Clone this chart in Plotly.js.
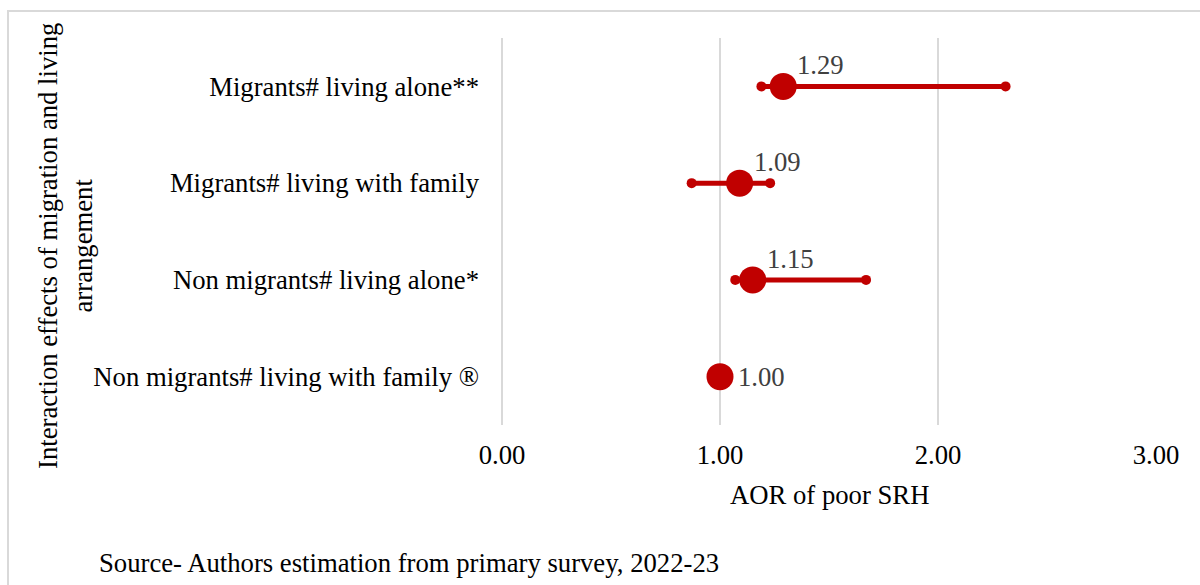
<!DOCTYPE html>
<html>
<head>
<meta charset="utf-8">
<script src="https://cdn.plot.ly/plotly-3.0.1.min.js"></script>
<style>html,body{margin:0;padding:0;background:#fff;}#chart{width:1200px;height:585px;}</style>
</head>
<body>
<div id="chart"></div>
<script>
// Data (top to bottom as in the reference)
const categories = [
  "Migrants# living alone**",
  "Migrants# living with family",
  "Non migrants# living alone*",
  "Non migrants# living with family \u00AE"
];
const aor   = [1.29, 1.09, 1.15, 1.00];
const lower = [1.19, 0.87, 1.07, null];
const upper = [2.31, 1.23, 1.67, null];
const xTickVals = [0, 1, 2, 3];
const xTickText = ["0.00", "1.00", "2.00", "3.00"];

const RED = "#C00000";
const FONT = "'Liberation Serif', 'Times New Roman', Times, serif";
const FS = 26.7;

// CI segments
const ciX = [], ciY = [];
categories.forEach((c, i) => {
  if (lower[i] !== null && upper[i] !== null) {
    ciX.push(lower[i], upper[i], null);
    ciY.push(c, c, null);
  }
});

const ciTrace = {
  type: "scatter", mode: "lines+markers",
  x: ciX, y: ciY,
  line: {color: RED, width: 5},
  marker: {color: RED, size: 10},
  hoverinfo: "skip", showlegend: false, connectgaps: false
};

const pointTrace = {
  type: "scatter", mode: "markers",
  x: aor, y: categories,
  marker: {color: RED, size: 27},
  showlegend: false
};

const L = 502, R = 44, T = 38, B = 160;
const PW = 1200 - L - R, PH = 585 - T - B;
const px = x => (x - L) / PW;
const py = y => (585 - B - y) / PH;

// value labels anchored to data points
const valueLabels = aor.map((v, i) => ({
  x: v, y: categories[i], xref: "x", yref: "y",
  text: v.toFixed(2), showarrow: false,
  xanchor: "left", yanchor: "middle",
  xshift: lower[i] === null ? 16 : 12,
  yshift: lower[i] === null ? 0 : 21,
  font: {family: FONT, size: FS, color: "#404040"}
}));

const layout = {
  width: 1200, height: 585,
  margin: {l: L, r: R, t: T, b: B, pad: 0},
  paper_bgcolor: "#fff", plot_bgcolor: "#fff",
  font: {family: FONT, size: FS, color: "#000"},
  showlegend: false,
  xaxis: {
    range: [0, 3], tickvals: xTickVals, ticktext: xTickText,
    showgrid: true, gridcolor: "#d9d9d9", gridwidth: 2,
    zeroline: true, zerolinecolor: "#d9d9d9", zerolinewidth: 2,
    showline: false, ticks: "", ticklabelstandoff: 11,
    tickfont: {family: FONT, size: FS, color: "#000"},
    fixedrange: true
  },
  yaxis: {
    type: "category", range: [3.5, -0.5],
    showgrid: false, zeroline: false, showline: false, ticks: "",
    ticklabelstandoff: 22,
    tickfont: {family: FONT, size: FS, color: "#000"},
    fixedrange: true
  },
  annotations: valueLabels.concat([
    {xref: "paper", yref: "paper", x: px(829), y: py(495), xanchor: "center", yanchor: "middle",
     text: "AOR of poor SRH", showarrow: false, font: {family: FONT, size: FS, color: "#000"}},
    {xref: "paper", yref: "paper", x: px(66), y: py(246), xanchor: "center", yanchor: "middle",
     text: "Interaction effects of migration and living<br>arrangement", textangle: -90,
     showarrow: false, font: {family: FONT, size: FS, color: "#000"}},
    {xref: "paper", yref: "paper", x: px(97), y: py(563), xanchor: "left", yanchor: "middle",
     text: "Source- Authors estimation from primary survey, 2022-23", showarrow: false,
     font: {family: FONT, size: FS, color: "#000"}}
  ]),
  shapes: [
    {type: "rect", xref: "paper", yref: "paper",
     x0: px(8), x1: px(1210), y0: py(600), y1: py(11),
     line: {color: "#d9d9d9", width: 2}, fillcolor: "rgba(0,0,0,0)", layer: "below"}
  ]
};

Plotly.newPlot("chart", [ciTrace, pointTrace], layout, {displayModeBar: false, staticPlot: true});
</script>
</body>
</html>
